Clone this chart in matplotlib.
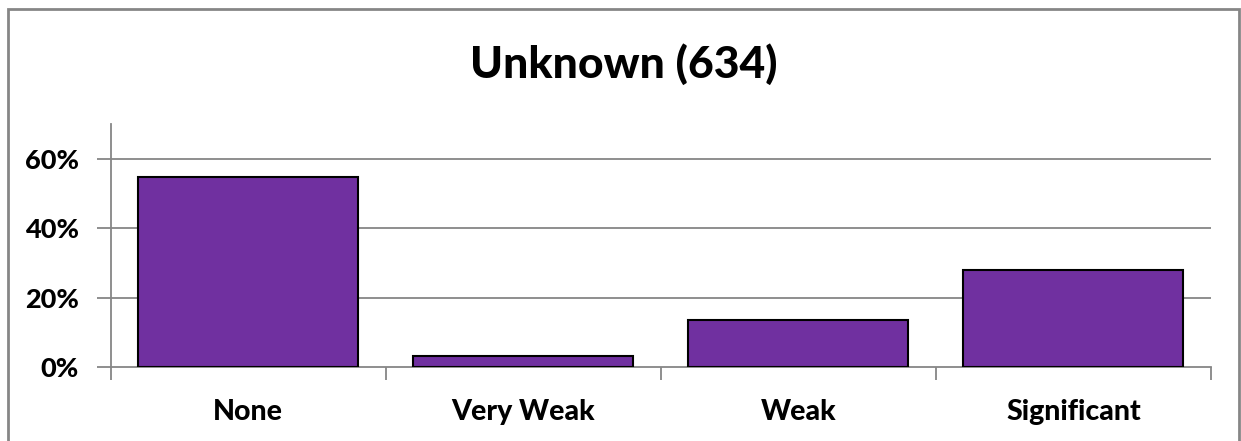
import numpy as np
import matplotlib.pyplot as plt
from matplotlib.patches import Rectangle
from matplotlib.ticker import FixedLocator, PercentFormatter

categories = ["None", "Very Weak", "Weak", "Significant"]
shares = [0.546, 0.033, 0.136, 0.281]
y_ticks = [0.0, 0.2, 0.4, 0.6]
title = "Unknown (634)"

plt.rcParams['font.family'] = ['Lato', 'DejaVu Sans']
plt.rcParams['font.weight'] = 900

grey = "#868686"
fig = plt.figure(figsize=(12.41, 4.41), dpi=100)
ax = fig.add_axes([0.0892, 0.167, 0.8866, 0.552])

x = np.arange(len(categories))
ax.bar(x, shares, width=0.8, color="#7030A0", edgecolor="black", linewidth=1.5, zorder=3)

ax.set_xlim(-0.5, len(categories) - 0.5)
ax.set_ylim(0, 0.7)
ax.set_yticks(y_ticks)
ax.yaxis.set_major_formatter(PercentFormatter(1.0, decimals=0))
ax.set_xticks(x)
ax.set_xticklabels(categories)
ax.xaxis.set_minor_locator(FixedLocator(np.arange(len(categories) + 1) - 0.5))

ax.tick_params(axis='y', length=10, width=1.3, color=grey, pad=13, labelsize=19.5)
ax.tick_params(axis='x', which='major', length=0, pad=23, labelsize=20.5)
ax.tick_params(axis='x', which='minor', length=9, width=1.3, color=grey)

for y in y_ticks[1:]:
    ax.axhline(y, color=grey, linewidth=1.3, zorder=1)

for side in ("top", "right"):
    ax.spines[side].set_visible(False)
for side in ("left", "bottom"):
    ax.spines[side].set_color(grey)
    ax.spines[side].set_linewidth(1.3)

fig.text(0.503, 0.855, title, ha="center", va="center", fontsize=32, fontweight=900)

# outer chart frame, open at the bottom
fig.patches.append(Rectangle((8 / 1241, -0.1), 1231 / 1241, 1.1 - 9 / 441,
                             transform=fig.transFigure, fill=False,
                             edgecolor=grey, linewidth=2))

fig.savefig("out.png", dpi=100)
